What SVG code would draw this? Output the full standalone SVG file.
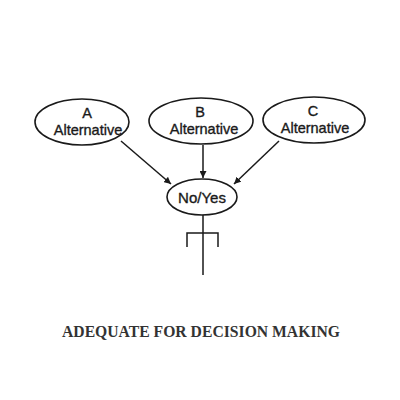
<svg xmlns="http://www.w3.org/2000/svg" width="400" height="400" viewBox="0 0 400 400">
<style>
.node ellipse{fill:#fff;stroke:#1a1a1a;stroke-width:1.6}
.lbl{font-family:"Liberation Sans",Arial,sans-serif;font-size:14.5px;fill:#1a1a1a;stroke:#1a1a1a;stroke-width:0.35;text-anchor:middle}
.conn{stroke:#1a1a1a;stroke-width:1.5;fill:none}
.title{font-family:"Liberation Serif",serif;font-weight:bold;font-size:17.5px;fill:#333;text-anchor:middle}
</style>
<defs>
<marker id="arr" viewBox="0 0 10 10" refX="10" refY="5" markerWidth="7" markerHeight="7" orient="auto" markerUnits="userSpaceOnUse">
<path d="M0,0 L10,5 L0,10 Z" fill="#1a1a1a"/>
</marker>
</defs>
<rect width="400" height="400" fill="#fff"/>
<g id="connectors">
<line class="conn" x1="121" y1="141" x2="171" y2="184" marker-end="url(#arr)"/>
<line class="conn" x1="203" y1="145" x2="203" y2="178" marker-end="url(#arr)"/>
<line class="conn" x1="279" y1="141" x2="234" y2="184" marker-end="url(#arr)"/>
<path class="conn" d="M203,215 V275 M187,247 V233 H218 V247"/>
</g>
<g id="nodeA" class="node">
<ellipse cx="82" cy="122" rx="47" ry="23"/>
<text class="lbl" x="87" y="118">A</text>
<text class="lbl" x="88" y="135">Alternative</text>
</g>
<g id="nodeB" class="node">
<ellipse cx="201" cy="121" rx="52" ry="23"/>
<text class="lbl" x="200" y="117">B</text>
<text class="lbl" x="204" y="134">Alternative</text>
</g>
<g id="nodeC" class="node">
<ellipse cx="314" cy="120" rx="51" ry="23"/>
<text class="lbl" x="313" y="116">C</text>
<text class="lbl" x="315" y="133">Alternative</text>
</g>
<g id="nodeNoYes" class="node">
<ellipse cx="202" cy="197" rx="35" ry="18"/>
<text class="lbl" x="202" y="203" style="font-size:15px">No/Yes</text>
</g>
<text class="title" x="201" y="337" textLength="278" lengthAdjust="spacingAndGlyphs">ADEQUATE FOR DECISION MAKING</text>
</svg>
